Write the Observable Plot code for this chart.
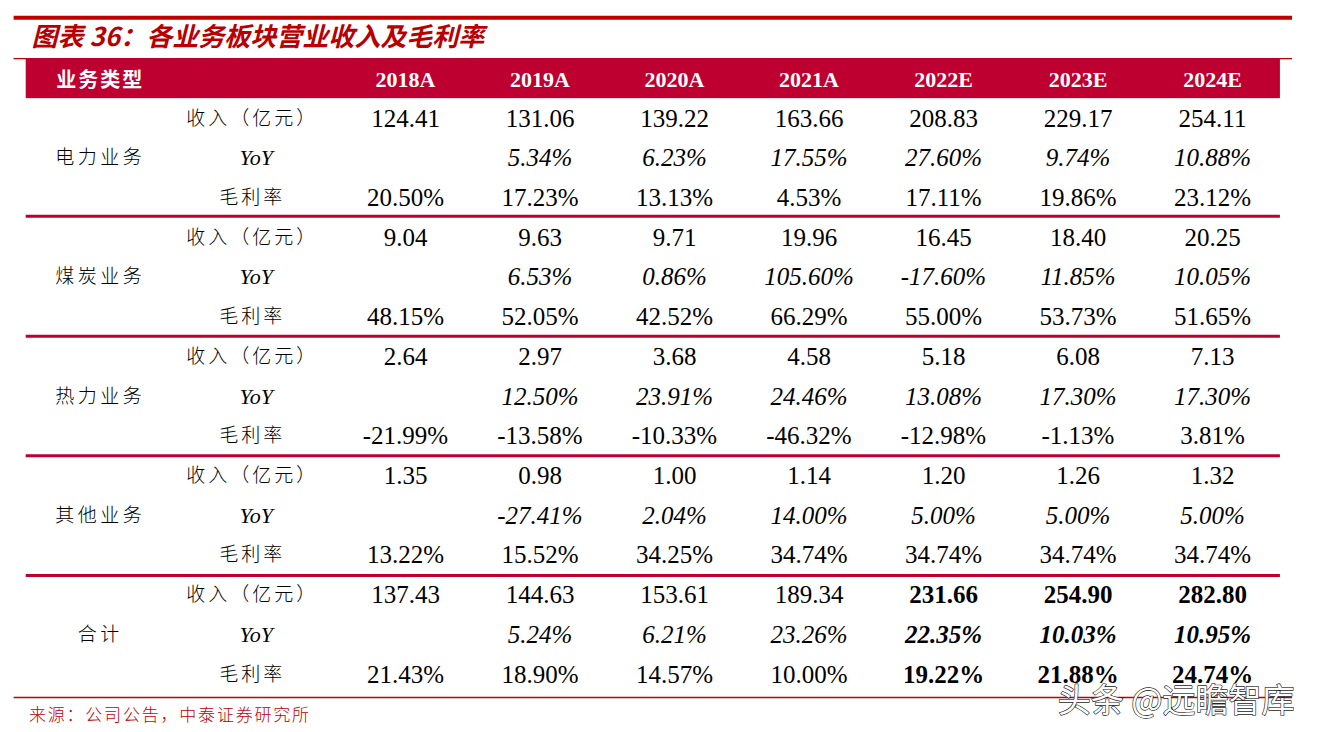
<!DOCTYPE html>
<html>
<head>
<meta charset="utf-8">
<script src="https://cdn.jsdelivr.net/npm/d3@7"></script>
<script src="https://cdn.jsdelivr.net/npm/@observablehq/plot@0.6"></script>
<style>
  html, body { margin: 0; padding: 0; background: #fff; }
</style>
</head>
<body>
<div id="chart"></div>
<script>
// ---- data ----
const title = "图表 36：各业务板块营业收入及毛利率";
const source = "来源：公司公告，中泰证券研究所";
const watermark = "头条 @远瞻智库";
const headerLabel = "业务类型";
const years = ["2018A", "2019A", "2020A", "2021A", "2022E", "2023E", "2024E"];
const segments = ["电力业务", "煤炭业务", "热力业务", "其他业务", "合计"];
const metrics = ["收入（亿元）", "YoY", "毛利率"];

const powerRevenue = [124.41, 131.06, 139.22, 163.66, 208.83, 229.17, 254.11];
const powerYoY     = [null, 5.34, 6.23, 17.55, 27.60, 9.74, 10.88];
const powerMargin  = [20.50, 17.23, 13.13, 4.53, 17.11, 19.86, 23.12];

const coalRevenue = [9.04, 9.63, 9.71, 19.96, 16.45, 18.40, 20.25];
const coalYoY     = [null, 6.53, 0.86, 105.60, -17.60, 11.85, 10.05];
const coalMargin  = [48.15, 52.05, 42.52, 66.29, 55.00, 53.73, 51.65];

const heatRevenue = [2.64, 2.97, 3.68, 4.58, 5.18, 6.08, 7.13];
const heatYoY     = [null, 12.50, 23.91, 24.46, 13.08, 17.30, 17.30];
const heatMargin  = [-21.99, -13.58, -10.33, -46.32, -12.98, -1.13, 3.81];

const otherRevenue = [1.35, 0.98, 1.00, 1.14, 1.20, 1.26, 1.32];
const otherYoY     = [null, -27.41, 2.04, 14.00, 5.00, 5.00, 5.00];
const otherMargin  = [13.22, 15.52, 34.25, 34.74, 34.74, 34.74, 34.74];

const totalRevenue = [137.43, 144.63, 153.61, 189.34, 231.66, 254.90, 282.80];
const totalYoY     = [null, 5.24, 6.21, 23.26, 22.35, 10.03, 10.95];
const totalMargin  = [21.43, 18.90, 14.57, 10.00, 19.22, 21.88, 24.74];

const seriesBySegment = [
  [powerRevenue, powerYoY, powerMargin],
  [coalRevenue, coalYoY, coalMargin],
  [heatRevenue, heatYoY, heatMargin],
  [otherRevenue, otherYoY, otherMargin],
  [totalRevenue, totalYoY, totalMargin]
];
const boldYears = ["2022E", "2023E", "2024E"]; // bold in the total row

// ---- build table cells ----
const cells = [];
seriesBySegment.forEach((rows, g) => {
  rows.forEach((vals, m) => {
    vals.forEach((v, i) => {
      if (v == null) return;
      cells.push({
        col: i,
        row: g * 3 + m,
        text: m === 0 ? v.toFixed(2) : v.toFixed(2) + "%",
        italic: m === 1,
        bold: g === segments.length - 1 && boldYears.includes(years[i])
      });
    });
  });
});
const metricCells = [];
segments.forEach((s, g) => metrics.forEach((m, k) => metricCells.push({row: g * 3 + k, text: m, italic: m === "YoY"})));
const groupCells = segments.map((s, g) => ({row: g * 3 + 1, text: s}));
const headerCells = years.map((y, i) => ({col: i, text: y}));

// ---- layout (in column / row units) ----
const COL_GROUP = -2.27, COL_METRIC = -1.14, LEFT_TEXT = -2.78;
const TABLE_L = -2.82, TABLE_R = 6.505, PAGE_L = -2.91, PAGE_R = 6.595;
const ROW_HEADER = -0.96, ROW_TITLE = -2.03, ROW_SOURCE = 15.03;
const separators = [2.46, 5.48, 8.49, 11.51];
const red = "#c00000", crimson = "#be0030";
const serif = "'Liberation Serif', 'Times New Roman', serif";
const cjk = "'Noto Sans CJK SC', sans-serif";

const plot = Plot.plot({
  width: 1319,
  height: 732,
  margin: 0,
  x: {type: "linear", domain: [0, 6], range: [405, 1212], axis: null},
  y: {type: "linear", domain: [0, 14], range: [118, 674], axis: null},
  style: {background: "#fff"},
  marks: [
    // top decorative rule
    Plot.ruleY([-2.54], {x1: PAGE_L, x2: PAGE_R, stroke: red, strokeWidth: 4}),
    Plot.ruleY([-1.51], {x1: PAGE_L, x2: PAGE_R, stroke: red, strokeWidth: 1.2}),
    // title
    Plot.text([title], {x: LEFT_TEXT, y: ROW_TITLE, text: d => d, textAnchor: "start",
      fill: "#b80000", fontSize: 26, fontWeight: "bold", fontStyle: "italic", fontFamily: cjk}),
    // header bar
    Plot.rect([0], {x1: TABLE_L, x2: TABLE_R, y1: -1.51, y2: -0.5, fill: crimson}),
    Plot.text([headerLabel], {x: COL_GROUP, y: ROW_HEADER, text: d => d, fill: "#fff",
      fontSize: 20, fontWeight: "bold", fontFamily: cjk}),
    Plot.text(headerCells, {x: "col", y: ROW_HEADER, text: "text", fill: "#fff",
      fontSize: 22, fontWeight: "bold", fontFamily: serif}),
    // separators
    Plot.ruleY(separators, {x1: TABLE_L, x2: TABLE_R, stroke: crimson, strokeWidth: 3}),
    // bottom rule
    Plot.ruleY([14.58], {x1: PAGE_L, x2: PAGE_R, stroke: red, strokeWidth: 1.5}),
    // group labels
    Plot.text(groupCells, {x: COL_GROUP, y: "row", text: "text", fill: "#000",
      fontSize: 19, fontWeight: 300, fontFamily: cjk}),
    // metric labels
    Plot.text(metricCells.filter(d => !d.italic), {x: COL_METRIC, y: "row", text: "text", fill: "#000",
      fontSize: 19, fontWeight: 300, fontFamily: cjk}),
    Plot.text(metricCells.filter(d => d.italic), {x: COL_METRIC + 0.03, y: "row", text: "text", fill: "#000",
      fontSize: 22, fontStyle: "italic", fontFamily: serif}),
    // values
    Plot.text(cells.filter(d => !d.italic && !d.bold), {x: "col", y: "row", text: "text", fill: "#000",
      fontSize: 25, fontFamily: serif}),
    Plot.text(cells.filter(d => d.italic && !d.bold), {x: "col", y: "row", text: "text", fill: "#000",
      fontSize: 25, fontStyle: "italic", fontFamily: serif}),
    Plot.text(cells.filter(d => !d.italic && d.bold), {x: "col", y: "row", text: "text", fill: "#000",
      fontSize: 25, fontWeight: "bold", fontFamily: serif}),
    Plot.text(cells.filter(d => d.italic && d.bold), {x: "col", y: "row", text: "text", fill: "#000",
      fontSize: 25, fontWeight: "bold", fontStyle: "italic", fontFamily: serif}),
    // source
    Plot.text([source], {x: LEFT_TEXT - 0.02, y: ROW_SOURCE, text: d => d, textAnchor: "start",
      fill: red, fontSize: 17, fontWeight: 300, fontFamily: cjk}),
    // watermark (overlaps the last row, as in the reference)
    Plot.text([watermark], {x: 5.73, y: 14.68, text: d => d, fill: "#fff", stroke: "#222",
      strokeWidth: 1.3, fontSize: 33, fontFamily: cjk})
  ]
});

// letter spacing for the CJK labels
const spacing = new Map([
  [headerLabel, "2px"], [source, "1.8px"]
]);
metrics.filter(m => m !== "YoY").forEach(m => spacing.set(m, "3px"));
segments.forEach(s => spacing.set(s, "3.5px"));
d3.select(plot).selectAll("text").each(function () {
  const ls = spacing.get(this.textContent);
  if (ls) this.style.letterSpacing = ls;
});
document.getElementById("chart").appendChild(plot);
</script>
</body>
</html>
